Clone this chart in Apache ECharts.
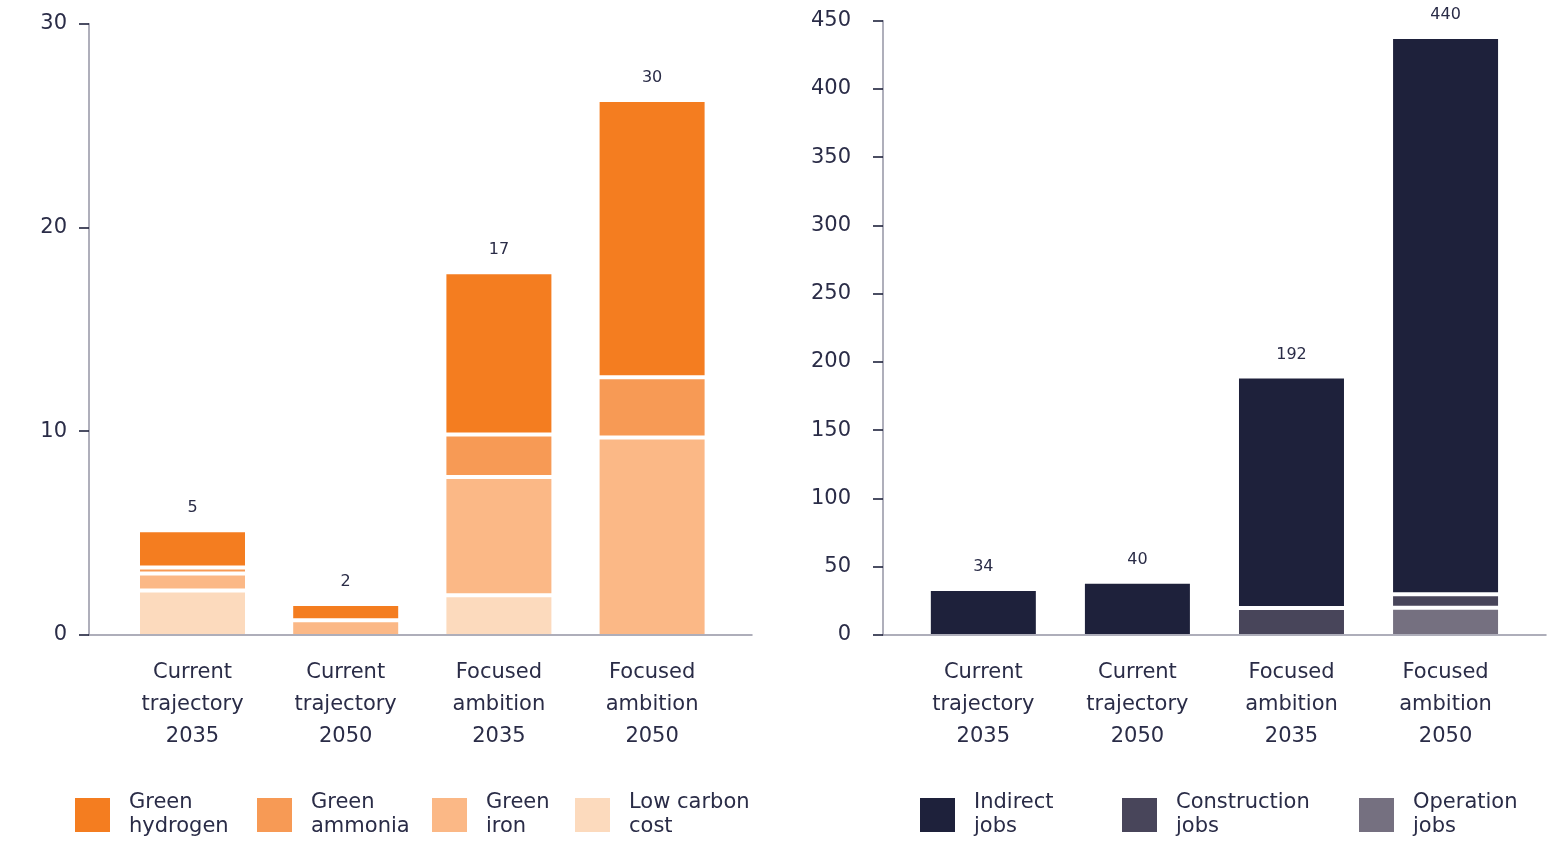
<!DOCTYPE html>
<html>
<head>
<meta charset="utf-8">
<script src="https://cdn.jsdelivr.net/npm/echarts@6/dist/echarts.min.js"></script>
<style>
html,body{margin:0;padding:0;background:#fff;}
#chart{width:1554px;height:841px;}
</style>
</head>
<body>
<div id="chart"></div>
<script>
const categories = ['Current\ntrajectory\n2035', 'Current\ntrajectory\n2050', 'Focused\nambition\n2035', 'Focused\nambition\n2050'];

// Left chart (stack order bottom -> top)
const lowCarbonCost = [2.23, '-', 2.0, '-'];
const greenIron = [0.83, 0.77, 5.79, 9.72];
const greenAmmonia = [0.3, '-', 2.08, 2.96];
const greenHydrogen = [1.82, 0.8, 7.95, 13.58];
const costTotalLabels = [5, 2, 17, 30];
const costAxisMax = 30;
const costAxisStep = 10;

// Right chart (stack order bottom -> top)
const operationJobs = ['-', '-', '-', 20.7];
const constructionJobs = ['-', '-', 20.5, 9.8];
const indirectJobs = [34.4, 39.6, 169.2, 407.5];
const jobsTotalLabels = [34, 40, 192, 440];
const jobsAxisMax = 450;
const jobsAxisStep = 50;

const FONT = 'DejaVu Sans';
const TEXT = '#2a2c47';
const AXISGREY = '#9494a4';
const TICK = '#1e213b';

const C = {
  hydrogen: '#F47D20', ammonia: '#F79A55', iron: '#FBB886', low: '#FCDABD',
  indirect: '#1E213B', construction: '#48455A', operation: '#757080'
};

const chart = echarts.init(document.getElementById('chart'), null, {renderer: 'canvas'});

function frameX(gi) {
  return {type: 'value', gridIndex: gi, min: 0, max: 1, z: 5,
    axisLine: {show: true, lineStyle: {color: AXISGREY, width: 1.5}},
    axisTick: {show: false}, axisLabel: {show: false}, splitLine: {show: false}};
}
function frameY(gi, max, step, margin) {
  return {type: 'value', gridIndex: gi, min: 0, max: max, interval: step, z: 5,
    axisLine: {show: true, lineStyle: {color: AXISGREY, width: 1.5}},
    axisTick: {show: true, length: 10, lineStyle: {color: TICK, width: 1.6}},
    axisLabel: {show: true, margin: margin, color: TEXT, fontFamily: FONT, fontSize: 21, padding: [0, 0, 6, 0]},
    splitLine: {show: false}};
}
function barX(gi) {
  return {type: 'category', gridIndex: gi, data: categories,
    axisLine: {show: false}, axisTick: {show: false},
    axisLabel: {show: true, margin: 21, color: TEXT, fontFamily: FONT, fontSize: 21, lineHeight: 32, align: 'center'},
    splitLine: {show: false}};
}
function barY(gi, max, step) {
  return {type: 'value', gridIndex: gi, min: 0, max: max, interval: step, show: false, splitLine: {show: false}};
}
function barSeries(name, data, color, ai, stack, labels) {
  const s = {name: name, type: 'bar', stack: stack, xAxisIndex: ai, yAxisIndex: ai,
    data: data, barWidth: 109,
    itemStyle: {color: color, borderColor: '#ffffff', borderWidth: 2},
    emphasis: {disabled: true}};
  if (labels) {
    s.label = {show: true, position: 'top', distance: 14, color: TEXT, fontFamily: FONT, fontSize: 16,
      formatter: p => String(labels[p.dataIndex])};
  }
  return s;
}
function legendItem(name, left) {
  return {data: [name], left: left, top: 791, padding: 0, orient: 'horizontal', icon: 'rect',
    itemWidth: 37, itemHeight: 36, selectedMode: false,
    textStyle: {color: TEXT, fontFamily: FONT, fontSize: 21, lineHeight: 24, padding: [0, 0, 0, 13]}};
}

const option = {
  backgroundColor: '#ffffff',
  animation: false,
  grid: [
    {left: 89, top: 23.7, width: 663, height: 611.3},
    {left: 115.9, top: 23.7, width: 612.8, height: 612.3},
    {left: 883, top: 20.7, width: 663, height: 614.3},
    {left: 906.3, top: 20.7, width: 616.3, height: 615.3}
  ],
  xAxis: [frameX(0), barX(1), frameX(2), barX(3)],
  yAxis: [frameY(0, costAxisMax, costAxisStep, 22), barY(1, costAxisMax, costAxisStep),
          frameY(2, jobsAxisMax, jobsAxisStep, 32), barY(3, jobsAxisMax, jobsAxisStep)],
  legend: [
    legendItem('Green\nhydrogen', 73),
    legendItem('Green\nammonia', 255),
    legendItem('Green\niron', 430),
    legendItem('Low carbon\ncost', 573),
    legendItem('Indirect\njobs', 918),
    legendItem('Construction\njobs', 1120),
    legendItem('Operation\njobs', 1357)
  ],
  series: [
    barSeries('Low carbon\ncost', lowCarbonCost, C.low, 1, 'cost'),
    barSeries('Green\niron', greenIron, C.iron, 1, 'cost'),
    barSeries('Green\nammonia', greenAmmonia, C.ammonia, 1, 'cost'),
    barSeries('Green\nhydrogen', greenHydrogen, C.hydrogen, 1, 'cost', costTotalLabels),
    barSeries('Operation\njobs', operationJobs, C.operation, 3, 'jobs'),
    barSeries('Construction\njobs', constructionJobs, C.construction, 3, 'jobs'),
    barSeries('Indirect\njobs', indirectJobs, C.indirect, 3, 'jobs', jobsTotalLabels)
  ]
};
chart.setOption(option);
</script>
</body>
</html>
